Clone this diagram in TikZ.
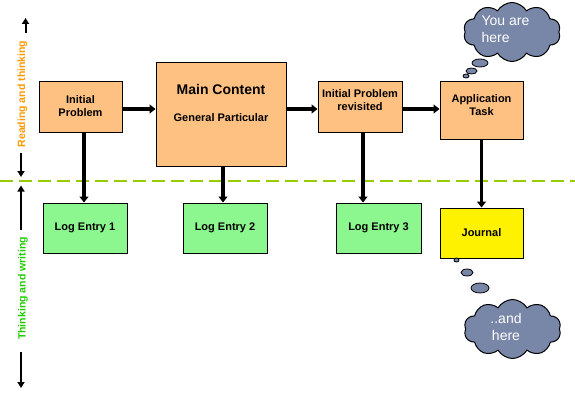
\documentclass[tikz,border=0pt]{standalone}
\usepackage{fontspec}
\setmainfont{Liberation Sans}
\usetikzlibrary{arrows.meta,shapes.symbols,shapes.geometric}
\definecolor{peach}{HTML}{FFC182}
\definecolor{lgreen}{HTML}{8CF78E}
\definecolor{cloudc}{HTML}{7886A8}
\definecolor{dashc}{HTML}{99CC00}
\definecolor{readc}{HTML}{FF9900}
\definecolor{writec}{HTML}{22CC00}
\begin{document}
\begin{tikzpicture}[x=1pt,y=-1pt,
  box/.style={draw=black, line width=1pt, inner sep=0pt},
  lbl/.style={font=\bfseries\fontsize{11}{13}\selectfont, align=center, inner sep=0pt},
  bigarrow/.style={line width=3.8pt, -{Triangle[length=6pt,width=9pt]}},
  sidearrow/.style={line width=2pt, -{Triangle[length=6pt,width=7pt]}},
  sidetext/.style={font=\bfseries\fontsize{10.5}{12}\selectfont, rotate=90, inner sep=0pt},
  puff/.style={ellipse, draw=black, line width=0.8pt, fill=cloudc, inner sep=0pt},
  cloudbox/.style={cloud, cloud puffs=10, cloud puff arc=120, aspect=1.6, draw=black, line width=1pt, fill=cloudc, inner sep=0pt, minimum width=97pt, minimum height=59pt},
  cloudtext/.style={font=\fontsize{14}{17}\selectfont, text=white, inner sep=0pt}
]
\fill[white] (0,0) rectangle (575,401);
\useasboundingbox (0,0) rectangle (575,401);

% dashed divider
\draw[dashc, line width=2.5pt, dash pattern=on 13pt off 6pt] (0,181) -- (575,181);

% side arrows and texts
\draw[sidearrow] (25.5,33) -- (25.5,18);
\node[sidetext, text=readc] (readT) at (22.5,94) {Reading and thinking};
\draw[sidearrow] (21,153) -- (21,177);
\draw[sidearrow] (21,230) -- (21,185.5);
\node[sidetext, text=writec] (writeT) at (23,288.5) {Thinking and writing};
\draw[sidearrow] (21,352) -- (21,388);

% boxes
\node[box, fill=peach, minimum width=83pt, minimum height=50pt] (ip) at (80.5,107) {};
\node[lbl] (ipT) at (80.5,106.5) {Initial\\Problem};
\node[box, fill=peach, minimum width=130pt, minimum height=103pt] (mc) at (221,114.5) {};
\node[lbl, font=\bfseries\fontsize{14}{16}\selectfont] (mcT) at (221,89) {Main Content};
\node[lbl] (mcS) at (221,117.5) {General Particular};
\node[box, fill=peach, minimum width=84pt, minimum height=50pt] (ipr) at (360,107) {};
\node[lbl] (iprT) at (360,100) {Initial Problem\\revisited};
\node[box, fill=peach, minimum width=83pt, minimum height=57pt] (at) at (481.5,110.5) {};
\node[lbl] (atT) at (481.5,105) {Application\\Task};

\node[box, fill=lgreen, minimum width=84pt, minimum height=50pt] (le1) at (85,228) {};
\node[lbl] (le1T) at (85,228) {Log Entry 1};
\node[box, fill=lgreen, minimum width=84pt, minimum height=50pt] (le2) at (225,228) {};
\node[lbl] (le2T) at (225,228) {Log Entry 2};
\node[box, fill=lgreen, minimum width=85pt, minimum height=50pt] (le3) at (378.5,228) {};
\node[lbl] (le3T) at (378.5,228) {Log Entry 3};
\node[box, fill=yellow, minimum width=83pt, minimum height=50pt] (jr) at (481.5,233) {};
\node[lbl] (jrT) at (481.5,233) {Journal};

% connectors
\coordinate (lvl) at (0,109);
\draw[bigarrow] (ip.east |- lvl) -- (mc.west |- lvl);
\draw[bigarrow] (mc.east |- lvl) -- (ipr.west |- lvl);
\draw[bigarrow] (ipr.east |- lvl) -- (at.west |- lvl);
\draw[bigarrow] ([xshift=3.5pt]ip.south) -- ([xshift=-1pt]le1.north);
\draw[bigarrow] ([xshift=2pt]mc.south) -- ([xshift=-2pt]le2.north);
\draw[bigarrow] ([xshift=3pt]ipr.south) -- ([xshift=-15.5pt]le3.north);
\draw[bigarrow] (at.south) -- (jr.north);

% clouds
\node[cloudbox] (c1) at (512,32) {};
\node[cloudtext, align=left] (c1T) at (505.5,29.5) {You are\\here};
\node[puff, minimum width=16pt, minimum height=8pt] (p1) at (480,63) {};
\node[puff, minimum width=11pt, minimum height=6pt] (p2) at (471.5,71) {};
\node[puff, minimum width=6pt, minimum height=4pt] (p3) at (466,76) {};

\node[cloudbox] (c2) at (512.5,329) {};
\node[cloudtext, align=center] (c2T) at (506,327) {..and\\here};
\node[puff, minimum width=5pt, minimum height=4pt] (q1) at (456.5,260) {};
\node[puff, minimum width=12pt, minimum height=7pt] (q2) at (467,272.5) {};
\node[puff, minimum width=18pt, minimum height=10pt] (q3) at (480,288) {};
\end{tikzpicture}
\end{document}
